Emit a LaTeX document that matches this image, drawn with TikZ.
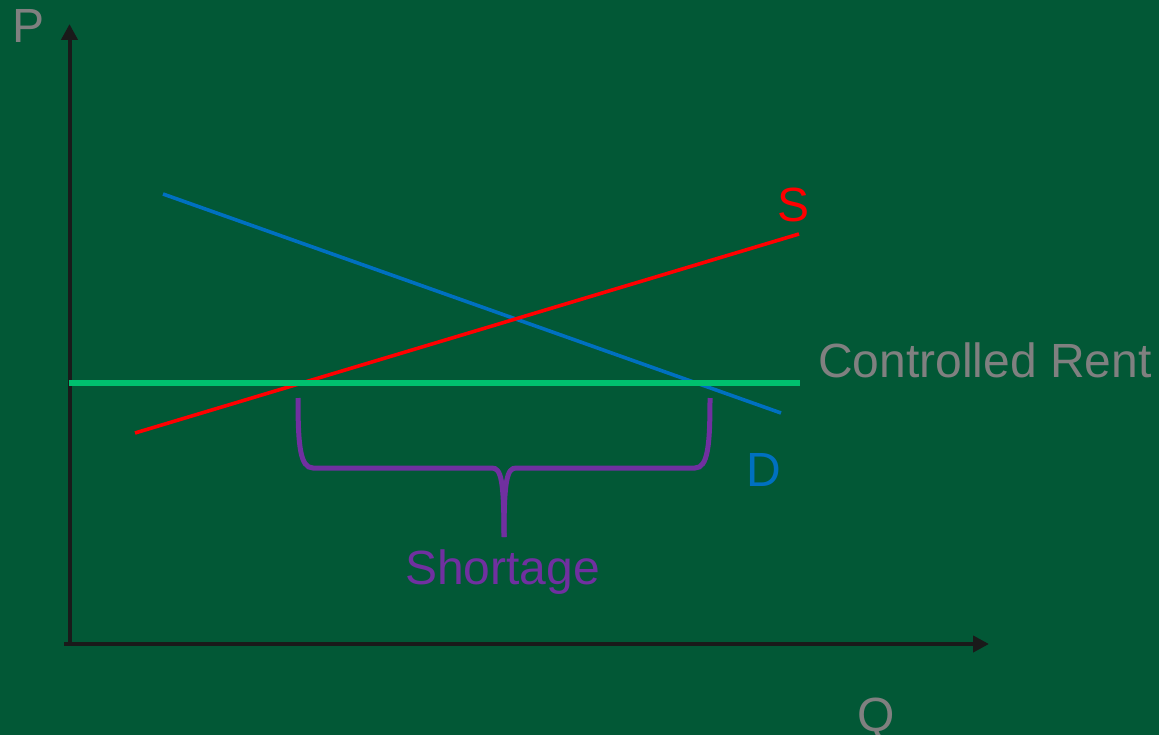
\documentclass[tikz,border=0pt]{standalone}
\usepackage{fontspec}
\setmainfont{Liberation Sans}
\usetikzlibrary{arrows.meta}
\definecolor{board}{RGB}{2,88,54}
\definecolor{axisink}{RGB}{26,26,26}
\definecolor{labelgrey}{RGB}{128,128,128}
\definecolor{demandblue}{RGB}{0,112,192}
\definecolor{supplyred}{RGB}{255,0,0}
\definecolor{rentgreen}{RGB}{0,192,110}
\definecolor{bracepurple}{RGB}{112,48,160}
\tikzset{
  axisline/.style={draw=axisink, line width=4pt, -{Triangle[length=16pt,width=16pt]}},
  curve/.style={line width=3.6pt},
  lbl/.style={inner sep=0pt, anchor=base west, font=\fontsize{48}{56}\selectfont},
}
\begin{document}
\begin{tikzpicture}[x=1pt,y=-1pt]
  \fill[board] (0,0) rectangle (1159,735);
  \useasboundingbox (0,0) rectangle (1159,735);

  % axes
  \coordinate (origin) at (69.5,644);
  \coordinate (ptop) at (69.5,24);
  \coordinate (qstart) at (64,644);
  \coordinate (qend) at (989,644);
  \draw[axisline] (origin) -- (ptop);
  \draw[axisline] (qstart) -- (qend);

  % demand and supply
  \coordinate (d1) at (163,194);
  \coordinate (d2) at (781,413);
  \coordinate (s1) at (135,433);
  \coordinate (s2) at (799,234);
  \draw[curve, demandblue] (d1) -- (d2);
  \draw[curve, supplyred] (s1) -- (s2);

  % rent ceiling
  \coordinate (r1) at (69,383);
  \coordinate (r2) at (800,383);
  \draw[rentgreen, line width=6pt] (r1) -- (r2);

  % shortage brace
  \coordinate (bl) at (298,398);
  \coordinate (br) at (710,398);
  \coordinate (btip) at (504,537);
  \draw[bracepurple, line width=5pt]
    (bl) .. controls (298,445) and (300,468) .. (313,468)
    -- (492,468) .. controls (501,468) and (504,480) .. (btip);
  \draw[bracepurple, line width=5pt]
    (br) .. controls (710,445) and (708,468) .. (695,468)
    -- (516,468) .. controls (507,468) and (504,480) .. (btip);

  % labels
  \node[lbl, text=labelgrey] (plabel) at (12,43) {P};
  \node[lbl, text=labelgrey] (qlabel) at (857,731) {Q};
  \node[lbl, text=supplyred] (slabel) at (777,222) {S};
  \node[lbl, text=demandblue] (dlabel) at (746,486) {D};
  \node[lbl, text=labelgrey] (rentlabel) at (818,377) {Controlled Rent};
  \node[lbl, text=bracepurple] (shortlabel) at (405,584) {Shortage};
\end{tikzpicture}
\end{document}
